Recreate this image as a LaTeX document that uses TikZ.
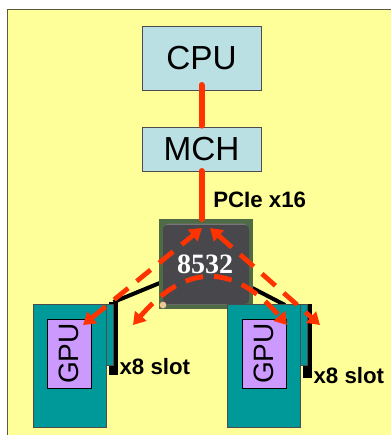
\documentclass[tikz,border=0pt]{standalone}
\usepackage{fontspec}
\setmainfont{Liberation Sans}
\newfontfamily\chipfont{Liberation Serif}
\usetikzlibrary{positioning}
\usetikzlibrary{arrows.meta}
\definecolor{slide}{HTML}{FFFF99}
\definecolor{slideedge}{HTML}{5A5A3A}
\definecolor{hostblue}{HTML}{BBE0E3}
\definecolor{cardteal}{HTML}{009999}
\definecolor{gpupurple}{HTML}{CC99FF}
\definecolor{pcired}{HTML}{FF3300}
\definecolor{chipgreen}{HTML}{4F6B45}
\definecolor{chipcore}{HTML}{48484C}
\definecolor{chiptop}{HTML}{77777A}
\definecolor{chippeach}{HTML}{F0C898}
\tikzset{host/.style={rectangle, fill=hostblue, draw=black!70, line width=0.6pt, outer sep=0pt,
minimum width=89.25pt, font=\fontsize{25}{25}\selectfont},
card/.style={rectangle, fill=cardteal, draw=black!70, line width=0.6pt, outer sep=0pt,
minimum width=54.75pt, minimum height=92.25pt},
edgetab/.style={rectangle, fill=cardteal, draw=black!70, line width=0.6pt, outer sep=0pt, inner sep=0pt,
minimum width=5.25pt, minimum height=45.75pt},
slot/.style={rectangle, fill=black, outer sep=0pt, inner sep=0pt, minimum width=6.75pt},
gpubox/.style={rectangle, rotate=90, fill=gpupurple, draw=black, line width=0.6pt, outer sep=0pt, inner sep=0pt,
minimum width=51.75pt, minimum height=33pt, font=\fontsize{21}{21}\selectfont},
tag/.style={inner sep=0pt, font=\bfseries\fontsize{16.7}{16.7}\selectfont},
pcielink/.style={draw=pcired, line width=4.5pt, line cap=round},
wire/.style={draw=black, line width=3pt},
lane/.style={<->, draw=pcired, line width=3.6pt, dash pattern=on 13.5pt off 8.25pt},
>={Triangle[length=9pt,width=11pt]}}
\pgfdeclarelayer{b}
\pgfsetlayers{b,main}
\begin{document}
\begin{tikzpicture}[x=0.75pt, y=-0.75pt]
    \useasboundingbox (0,0) rectangle (391,435);

    \node (cpu) [host, minimum height=48pt] at (201.5,58) {CPU};
    \node (mch) [host, minimum height=33pt, below = 27.75pt of cpu] {MCH};

    \node (chip) [rectangle, fill=chipgreen, outer sep=0pt, minimum width=70.5pt, minimum height=67.5pt] at (206,264) {};
    \node (chip_top) [rectangle, rounded corners=3pt, fill=chiptop, minimum width=62pt, minimum height=60.75pt] at (206,264) {};
    \node (chip_core) [rectangle, rounded corners=3pt, fill=chipcore, minimum width=64.5pt, minimum height=59.25pt, below = -60pt of chip_top] {};
    \node (chip_dot) [circle, fill=chippeach, inner sep=0pt, minimum size=5pt] at (163,305) {};
    \node (chip_label) [text=white, font=\chipfont\bfseries\fontsize{21}{21}\selectfont] at (205,264) {8532};

    \node (card_l) [card] at (69.5,365.5) {};
    \node (card_r) [card, right = 90.75pt of card_l] {};
    \node (tab_l) [edgetab, anchor=north west] at (card_l.north east) {};
    \node (tab_r) [edgetab, anchor=north west] at (card_r.north east) {};

    \node (gpu_l) [gpubox] at (69,353.5) {GPU};
    \node (gpu_r) [gpubox] at (264,353.5) {GPU};

    \node (pcie) [tag, anchor=west] at (213,200) {PCIe x16};

    \coordinate (wire_r) at (285,305);
    \coordinate (lane_a) at (83,325);
    \coordinate (lane_b) at (202,228);
    \coordinate (lane_c) at (133,325);
    \coordinate (lane_d) at (287,325);
    \coordinate (lane_e) at (210,228);
    \coordinate (lane_f) at (320,325);

    \begin{pgfonlayer}{b}
    \node (slide) [rectangle, fill=slide, draw=slideedge, line width=0.8pt, anchor=north west, minimum width=320pt, minimum height=340pt] at (7,9) {};
    \node (slot_l) [slot, minimum height=54.75pt] at (113.5,338.5) {};
    \node (slot_r) [slot, minimum height=55.5pt] at (307.5,341) {};
    \draw [wire] (chip.center) -- (slot_l.north);
    \draw [wire] (chip.center) -- (wire_r);
    \end{pgfonlayer}

    \node (slot_tag_l) [tag, right = 1pt of slot_l.south east, yshift=6pt] {x8 slot};
    \node (slot_tag_r) [tag, right = 1pt of slot_r.south east, yshift=1.5pt] {x8 slot};

    \draw [pcielink, shorten <=-3.75pt, shorten >=1pt] (cpu.south) -- (mch.north);
    \draw [pcielink] (mch.south) -- (mch.south |- chip.north);

    \draw [lane] (lane_a) -- (lane_b);
    \draw [lane] (lane_e) -- (lane_f);
    \draw [lane] (lane_c) .. controls (186,263) and (234,263) .. (lane_d);

\end{tikzpicture}
\end{document}
